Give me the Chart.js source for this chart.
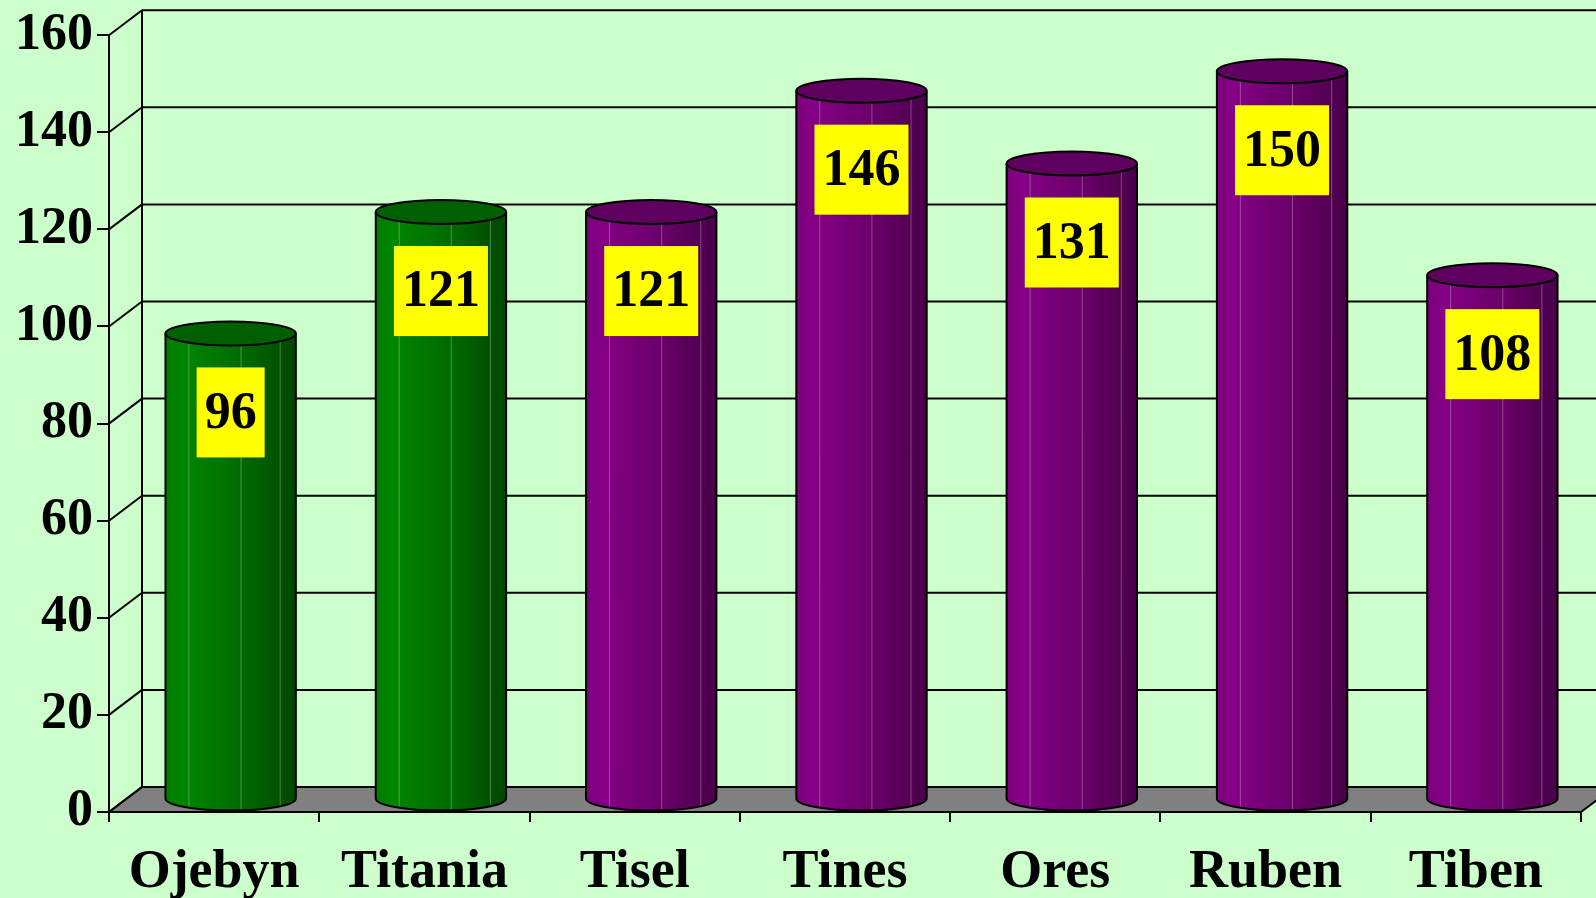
<!DOCTYPE html>
<html><head><meta charset="utf-8">
<script src="https://cdn.jsdelivr.net/npm/chart.js@4"></script>
<style>html,body{margin:0;padding:0;background:#CCFFCC;overflow:hidden}canvas{display:block}</style>
</head><body>
<canvas id="c" width="1596" height="898"></canvas>
<script>
// ---- data ----
const categories = ['Ojebyn', 'Titania', 'Tisel', 'Tines', 'Ores', 'Ruben', 'Tiben'];
const values = [96, 121, 121, 146, 131, 150, 108];
const yMin = 0, yMax = 160, yStep = 20;
const barGroup = ['green', 'green', 'purple', 'purple', 'purple', 'purple', 'purple'];

// ---- style ----
const DX = 33, DY = 25, RY = 12;
const FONT = '"Liberation Serif","Times New Roman",serif';
const palette = {
  green: { stops: ['#007a00', '#008600', '#006c00', '#004800'], top: '#005f00' },
  purple: { stops: ['#7a007a', '#860086', '#6c006c', '#480048'], top: '#5e005e' }
};

const threeD = {
  id: 'threeD',
  beforeDraw(chart) {
    const ctx = chart.ctx;
    ctx.save();
    ctx.fillStyle = '#CCFFCC';
    ctx.fillRect(0, 0, chart.width, chart.height);
    ctx.restore();
  },
  beforeDatasetsDraw(chart) {
    const { ctx, chartArea: ca, scales: { y } } = chart;
    const y0 = y.getPixelForValue(0);
    ctx.save();
    ctx.strokeStyle = '#000';
    ctx.lineWidth = 2;
    // floor
    ctx.beginPath();
    ctx.moveTo(ca.left, y0);
    ctx.lineTo(ca.right, y0);
    ctx.lineTo(ca.right + DX, y0 - DY);
    ctx.lineTo(ca.left + DX, y0 - DY);
    ctx.closePath();
    ctx.fillStyle = '#808080';
    ctx.fill();
    ctx.stroke();
    // back wall grid + side diagonals
    y.ticks.forEach(t => {
      const py = y.getPixelForValue(t.value);
      ctx.beginPath();
      ctx.moveTo(ca.left + DX, py - DY);
      ctx.lineTo(chart.width + 5, py - DY);
      ctx.stroke();
      ctx.beginPath();
      ctx.moveTo(ca.left, py);
      ctx.lineTo(ca.left + DX, py - DY);
      ctx.stroke();
    });
    // back-left vertical
    ctx.beginPath();
    ctx.moveTo(ca.left + DX, y.getPixelForValue(yMax) - DY);
    ctx.lineTo(ca.left + DX, y0 - DY);
    ctx.stroke();
    ctx.restore();
  },
  afterDatasetsDraw(chart) {
    const ctx = chart.ctx;
    const meta = chart.getDatasetMeta(0);
    const tops = [];
    meta.data.forEach((el, i) => {
      const p = el.getProps(['x', 'y', 'base', 'width'], true);
      const cx = p.x + DX / 2;
      const rx = p.width / 2;
      const yT = p.y - DY / 2;
      const yB = p.base - DY / 2;
      const pal = palette[barGroup[i]];
      ctx.save();
      const g = ctx.createLinearGradient(cx - rx, 0, cx + rx, 0);
      g.addColorStop(0, pal.stops[0]);
      g.addColorStop(0.12, pal.stops[1]);
      g.addColorStop(0.55, pal.stops[2]);
      g.addColorStop(1, pal.stops[3]);
      ctx.beginPath();
      ctx.moveTo(cx - rx, yT);
      ctx.lineTo(cx - rx, yB);
      ctx.ellipse(cx, yB, rx, RY, 0, Math.PI, 0, true);
      ctx.lineTo(cx + rx, yT);
      ctx.ellipse(cx, yT, rx, RY, 0, 0, Math.PI, false);
      ctx.closePath();
      ctx.fillStyle = g;
      ctx.fill();
      // highlight lines
      ctx.strokeStyle = 'rgba(255,255,255,0.28)';
      ctx.lineWidth = 1;
      [0.18, 0.58, 0.88].forEach(f => {
        const lx = cx - rx + f * 2 * rx;
        const a = Math.acos(Math.max(-1, Math.min(1, (lx - cx) / rx)));
        const off = RY * Math.sin(a);
        ctx.beginPath();
        ctx.moveTo(lx, yT + off);
        ctx.lineTo(lx, yB + off);
        ctx.stroke();
      });
      // outline body
      ctx.beginPath();
      ctx.moveTo(cx - rx, yT);
      ctx.lineTo(cx - rx, yB);
      ctx.ellipse(cx, yB, rx, RY, 0, Math.PI, 0, true);
      ctx.lineTo(cx + rx, yT);
      ctx.strokeStyle = '#000';
      ctx.lineWidth = 2;
      ctx.stroke();
      // top
      ctx.beginPath();
      ctx.ellipse(cx, yT, rx, RY, 0, 0, Math.PI * 2);
      ctx.fillStyle = pal.top;
      ctx.fill();
      ctx.stroke();
      ctx.restore();
      tops.push({ cx, yT, v: values[i] });
    });
    // value labels
    ctx.save();
    ctx.font = 'bold 52px ' + FONT;
    ctx.textAlign = 'center';
    ctx.textBaseline = 'middle';
    tops.forEach(t => {
      const txt = String(t.v);
      const w = ctx.measureText(txt).width + 16;
      const h = 90;
      const bx = t.cx - w / 2, by = t.yT + 34;
      ctx.fillStyle = '#FFFF00';
      ctx.fillRect(bx, by, w, h);
      ctx.fillStyle = '#000';
      ctx.fillText(txt, t.cx, by + h / 2 + 2);
    });
    ctx.restore();
  }
};

new Chart(document.getElementById('c'), {
  type: 'bar',
  data: {
    labels: categories,
    datasets: [{
      data: values,
      backgroundColor: 'rgba(0,0,0,0)',
      borderWidth: 0,
      barPercentage: 0.62,
      categoryPercentage: 1
    }]
  },
  options: {
    responsive: false,
    animation: false,
    layout: { padding: { top: 34, right: 15, left: 0, bottom: 0 } },
    plugins: { legend: { display: false }, tooltip: { enabled: false } },
    scales: {
      x: {
        offset: true,
        grid: { display: true, offset: true, drawOnChartArea: false, drawTicks: true, tickLength: 10, color: '#000', lineWidth: 2 },
        border: { display: true, color: '#000', width: 2 },
        ticks: { color: '#000', font: { family: FONT, size: 54, weight: 'bold' }, padding: 19, maxRotation: 0, autoSkip: false },
        afterFit(s) { s.height = 86; }
      },
      y: {
        min: yMin, max: yMax,
        grid: { display: true, drawOnChartArea: false, drawTicks: true, tickLength: 12, color: '#000', lineWidth: 2 },
        border: { display: true, color: '#000', width: 2 },
        ticks: { stepSize: yStep, color: '#000', font: { family: FONT, size: 52, weight: 'bold' }, padding: 4 },
        afterFit(s) { s.width = 109; }
      }
    }
  },
  plugins: [threeD]
});
</script>
</body></html>
